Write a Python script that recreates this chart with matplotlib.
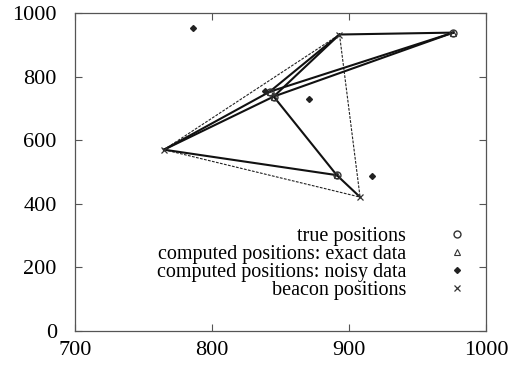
import matplotlib
matplotlib.use("Agg")
from matplotlib import pyplot as plt

plt.rcParams['font.family'] = ['Liberation Serif', 'DejaVu Serif']

# beacons: left, top, bottom
beacon_x = [765, 893, 908]
beacon_y = [570, 932, 421]
# sensor true positions
true_x = [976, 891, 845, 842]
true_y = [938, 490, 737, 752]
# computed from exact distances (sit on top of the true ones)
exact_x = [976, 891, 845, 842]
exact_y = [938, 490, 737, 752]
# computed from noisy distances
noisy_x = [786, 917, 871, 839]
noisy_y = [952, 487, 729, 756]

# nodes: 0..2 beacons, 3..6 sensors
solid_edges = [(1, 3), (3, 5), (3, 6), (0, 5), (0, 6), (1, 5), (1, 6),
               (5, 4), (4, 2), (0, 4)]
dashed_edges = [(0, 1), (1, 2), (0, 2)]

fig = plt.figure(figsize=(5.2, 3.68), dpi=100)
ax = fig.add_axes([0.144, 0.1005, 0.791, 0.8645])

nx = beacon_x + true_x
ny = beacon_y + true_y
for a, b in dashed_edges:
    ax.plot([nx[a], nx[b]], [ny[a], ny[b]], color='#222222', lw=0.8,
            dashes=(2.5, 1.2), zorder=1)
for a, b in solid_edges:
    ax.plot([nx[a], nx[b]], [ny[a], ny[b]], color='#111111', lw=1.5, zorder=2)

ax.plot(true_x, true_y, 'o', ls='none', mfc='none', mec='#333333', ms=5,
        mew=1.0, label='true positions', zorder=3)
ax.plot(exact_x, exact_y, '^', ls='none', mfc='none', mec='#333333', ms=4,
        mew=0.8, label='computed positions: exact data', zorder=3)
ax.plot(noisy_x, noisy_y, 'D', ls='none', color='#222222', ms=3,
        label='computed positions: noisy data', zorder=3)
ax.plot(beacon_x, beacon_y, 'x', ls='none', color='#333333', ms=5,
        mew=0.9, label='beacon positions', zorder=3)

ax.set_xlim(700, 1000)
ax.set_ylim(0, 1000)
ax.set_xticks([700, 800, 900, 1000])
ax.set_yticks([0, 200, 400, 600, 800, 1000])
ax.tick_params(direction='in', length=5, width=0.8, color='#555555',
               top=True, right=True, labelsize=16)
ax.tick_params(axis='y', pad=13)
ax.tick_params(axis='x', pad=7)
for s in ax.spines.values():
    s.set_color('#555555')
    s.set_linewidth(0.9)

leg = ax.legend(loc='lower right', markerfirst=False, frameon=False,
                fontsize=14.5, handlelength=1.0, handletextpad=2.0,
                labelspacing=-0.06, borderaxespad=0.3,
                bbox_to_anchor=(0.987, 0.054))

fig.savefig('out.png', dpi=100)
